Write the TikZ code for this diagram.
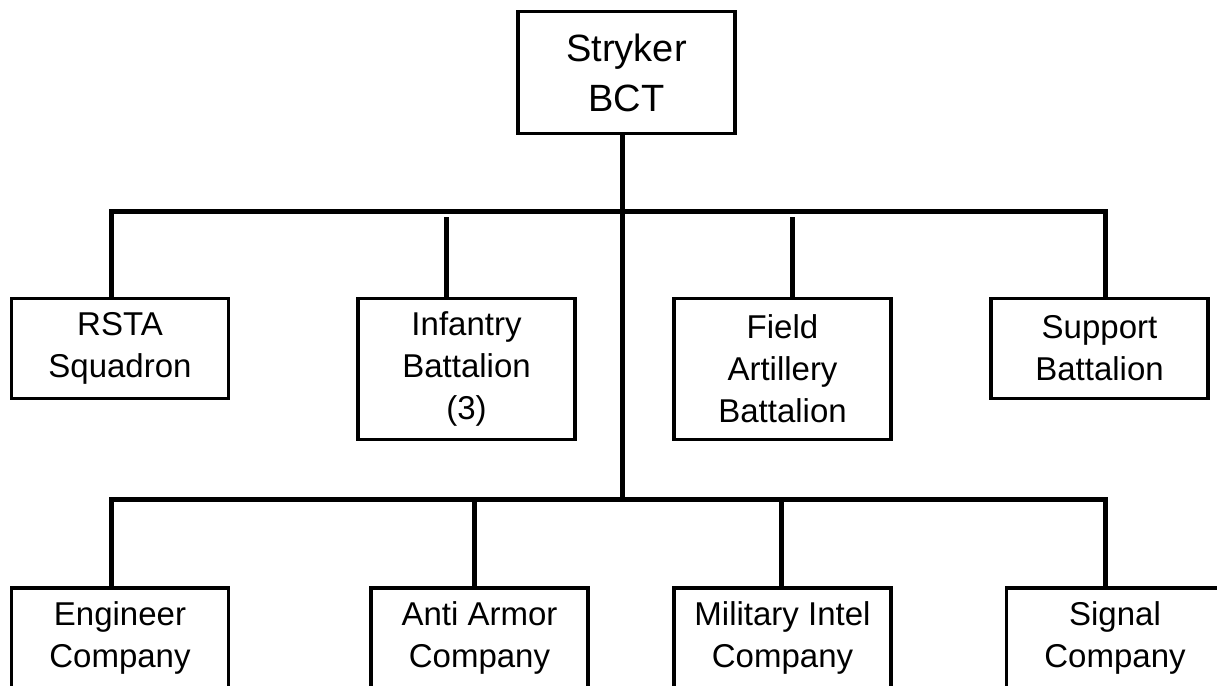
\documentclass[tikz,border=0pt]{standalone}
\usepackage{fontspec}
\setmainfont{Liberation Sans}
\usetikzlibrary{calc, positioning}

\begin{document}
\begin{tikzpicture}[x=1pt, y=-1pt, line join=miter]
	\tikzstyle{unit} = [draw=black, line width=3.5pt, rectangle, align=center, inner sep=0pt, minimum width=217pt, font=\fontsize{33}{42}\selectfont]
	\tikzstyle{head} = [unit, minimum height=122pt, font=\fontsize{38}{50}\selectfont]
	\tikzstyle{link} = [line width=5pt]
	
	\useasboundingbox (0, 0) rectangle (1217, 685);
	\clip (0, 0) rectangle (1217, 685);
	
	\node[head] at (626.5, 72.5) (bct) {Stryker\\BCT};
	
	\node[unit, minimum height=100pt] at (120, 348.5) (rsta) {RSTA\\Squadron};
	\node[unit, minimum height=141pt] at (466.5, 369) (inf) {Infantry\\Battalion\\(3)};
	\node[unit, minimum height=141pt] at (782.5, 369) (fa) {Field\\Artillery\\Battalion};
	\node[unit, minimum height=100pt] at (1099.5, 348.5) (sup) {Support\\Battalion};
	
	\node[unit, minimum height=100pt] at (120, 638) (eng) {Engineer\\Company};
	\node[unit, minimum height=100pt] at (479.5, 638) (aa) {Anti Armor\\Company};
	\node[unit, minimum height=100pt] at (782.5, 638) (mi) {Military Intel\\Company};
	\node[unit, minimum height=100pt] at (1115, 638) (sig) {Signal\\Company};
	
	\coordinate (bus1) at (622, 211);
	\coordinate (bus2) at (622, 499);
	
	\draw[link] ([xshift=-4.5pt]bct.south) -- (bus2);
	\draw[link] ([xshift=-9pt]rsta.north) |- (bus1) -| ([xshift=5.5pt]sup.north);
	\draw[link] ([xshift=-20pt]inf.north) -- ++(0, -80);
	\draw[link] ([xshift=9.5pt]fa.north) -- ++(0, -80);
	
	\draw[link] ([xshift=-9pt]eng.north) |- (bus2) -| ([xshift=-10pt]sig.north);
	\draw[link] ([xshift=-5pt]aa.north) -- ([xshift=-5pt]aa.north |- bus2);
	\draw[link] ([xshift=-1.5pt]mi.north) -- ([xshift=-1.5pt]mi.north |- bus2);
\end{tikzpicture}
\end{document}
